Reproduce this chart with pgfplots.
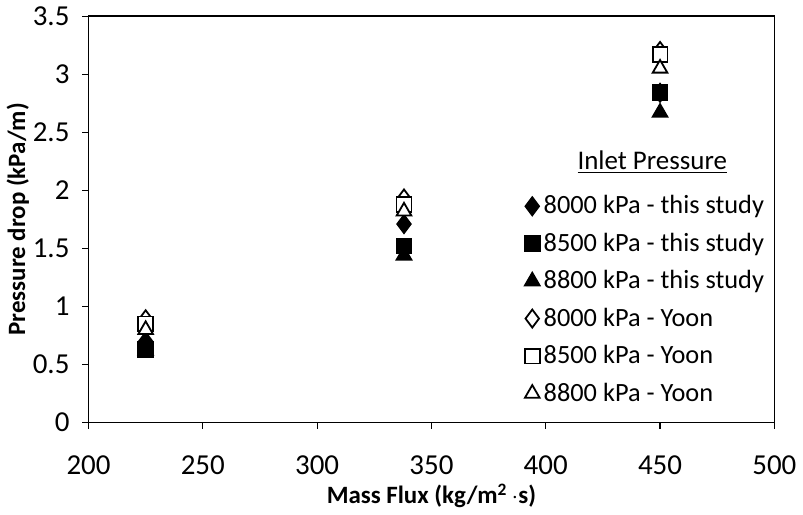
\documentclass[border=0pt]{standalone}
\usepackage{pgfplots}
\pgfplotsset{compat=1.18}
\usepackage{fontspec}
\setmainfont{Carlito}
\begin{document}
\begin{tikzpicture}
\begin{axis}[
  scale only axis,
  width=342.5bp, height=203bp,
  xmin=200, xmax=500, ymin=0, ymax=3.5,
  xtick={200,250,...,500},
  ytick={0,0.5,...,3.5},
  xtick pos=left, ytick pos=left,
  /pgf/number format/assume math mode=true,
  /pgf/number format/fixed,
  ticklabel style={font=\fontsize{14.5}{16}\selectfont},
  xticklabel style={yshift=-10bp},
  yticklabel style={xshift=-3bp},
  tick align=outside,
  major tick length=3bp,
  tick style={black, line width=0.6pt},
  axis line style={black, line width=0.8pt},
  xlabel={\textbf{Mass Flux (kg/m\textsuperscript{2}\,$\cdot$s)}},
  ylabel={\textbf{Pressure drop (kPa/m)}},
  xlabel style={at={(axis description cs:0.5,-0.18)}, anchor=center, font=\fontsize{12.5}{14}\selectfont},
  ylabel style={at={(axis description cs:-0.103,0.5)}, anchor=center, font=\fontsize{12.5}{14}\selectfont},
  legend cell align=left,
  legend style={at={(1.0,0.025)}, anchor=south east, draw=none, fill=none,
    font=\fontsize{13.2}{15}\selectfont, row sep=4.1pt,
    /tikz/every even column/.append style={column sep=1pt}},
  legend image code/.code={\draw[#1] plot coordinates {(0.1cm,0cm)};},
  every axis plot/.append style={only marks, black, line width=0.9pt},
]
\addplot[mark=diamond*, mark size=4.5bp, fill=black] coordinates {(225,0.70) (338,1.71) (450,2.84)};
\addlegendentry{8000 kPa - this study}
\addplot[mark=square*, mark size=3.7bp, fill=black] coordinates {(225,0.63) (338,1.52) (450,2.84)};
\addlegendentry{8500 kPa - this study}
\addplot[mark=triangle*, mark size=4.2bp, fill=black] coordinates {(225,0.62) (338,1.44) (450,2.67)};
\addlegendentry{8800 kPa - this study}
\addplot[mark=diamond*, mark size=4.5bp, fill=white] coordinates {(225,0.89) (338,1.93) (450,3.20)};
\addlegendentry{8000 kPa - Yoon}
\addplot[mark=square*, mark size=3.7bp, fill=white] coordinates {(225,0.85) (338,1.88) (450,3.17)};
\addlegendentry{8500 kPa - Yoon}
\addplot[mark=triangle*, mark size=4.2bp, fill=white] coordinates {(225,0.80) (338,1.82) (450,3.05)};
\addlegendentry{8800 kPa - Yoon}
\node[font=\fontsize{13.5}{15}\selectfont] at (rel axis cs:0.822,0.64) {\underline{Inlet Pressure}};
\end{axis}
\end{tikzpicture}
\end{document}
